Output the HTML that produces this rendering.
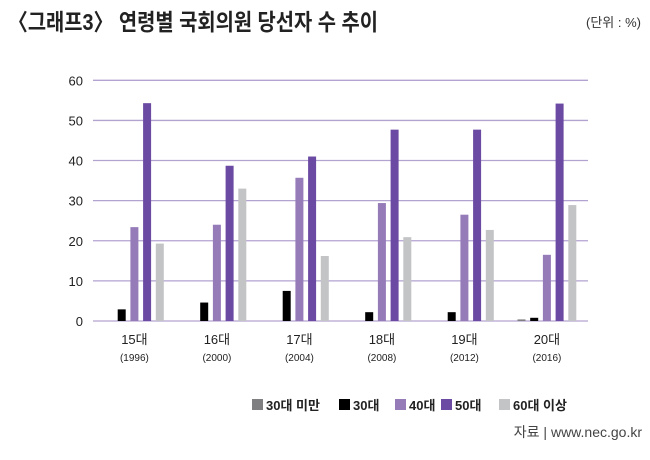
<!DOCTYPE html>
<html><head><meta charset="utf-8"><style>
body{margin:0;width:650px;height:455px;background:#fff;overflow:hidden;font-family:"Liberation Sans","Noto Sans CJK KR",sans-serif}
</style></head><body>
<svg width="650" height="455" xmlns="http://www.w3.org/2000/svg" id="chart">
<text x="8" y="30" font-size="23" font-weight="bold" fill="#222" font-family="Liberation Sans, Noto Sans CJK KR, sans-serif" textLength="370" lengthAdjust="spacingAndGlyphs">〈그래프3〉 연령별 국회의원 당선자 수 추이</text>
<text x="641" y="27" font-size="13" fill="#333" text-anchor="end" font-family="Liberation Sans, Noto Sans CJK KR, sans-serif">(단위 : %)</text>
<g id="grid"></g><g id="bars"></g><g id="xlabels"></g><g id="legend"></g>
<text x="642" y="437" font-size="14" fill="#444" text-anchor="end" font-family="Liberation Sans, Noto Sans CJK KR, sans-serif">자료 | www.nec.go.kr</text>
</svg>
<script>
const categories=["15대","16대","17대","18대","19대","20대"];
const years=["(1996)","(2000)","(2004)","(2008)","(2012)","(2016)"];
const seriesNames=["30대 미만","30대","40대","50대","60대 이상"];
const under30=[0,0,0,0,0,0.4];
const age30=[2.9,4.6,7.5,2.2,2.2,0.8];
const age40=[23.4,24.0,35.7,29.4,26.5,16.5];
const age50=[54.3,38.7,41.0,47.7,47.7,54.2];
const age60=[19.3,33.0,16.2,20.9,22.7,28.9];
const yTicks=[0,10,20,30,40,50,60];
const series=[under30,age30,age40,age50,age60];
const colors=["#7f7f82","#000000","#957cb9","#6a4aa2","#c3c4c6"];
const NS="http://www.w3.org/2000/svg";
const y0=321,yTop=80.3,yMax=60;
const y=v=>y0-(v/yMax)*(y0-yTop);
const x=(g,s)=>105+g*82.5+s*12.7;
function mk(t,a){const e=document.createElementNS(NS,t);for(const k in a)e.setAttribute(k,a[k]);return e;}
const grid=document.getElementById('grid');
yTicks.forEach(t=>{
  const l=mk('line',{x1:93,x2:588,y1:y(t),y2:y(t),stroke:'#b3a3d0','stroke-width':1.3});
  
  
  grid.appendChild(l);
  const tx=mk('text',{x:83,y:y(t)+5,'font-size':13,'text-anchor':'end',fill:'#222'});
  tx.textContent=t;
  
  
  grid.appendChild(tx);
});
const bars=document.getElementById('bars');
series.forEach((arr,s)=>arr.forEach((v,g)=>{
  if(v<=0)return;
  const r=mk('rect',{x:x(g,s),y:y(v),width:8,height:y0-y(v),fill:colors[s]});
  
  
  bars.appendChild(r);
}));
const xl=document.getElementById('xlabels');
categories.forEach((c,g)=>{
  const cx=x(g,2)+4;
  const t=mk('text',{x:cx,y:344,'font-size':13,'text-anchor':'middle',fill:'#222'});
  t.textContent=c;
  
  
  xl.appendChild(t);
  const t2=mk('text',{x:cx,y:361,'font-size':10,'text-anchor':'middle',fill:'#222'});
  t2.textContent=years[g];
  
  
  xl.appendChild(t2);
});
const lg=document.getElementById('legend');
const lx=[252,339,395,441,499];
seriesNames.forEach((n,i)=>{
  const r=mk('rect',{x:lx[i],y:399,width:11,height:11,fill:colors[i]});
  
  
  lg.appendChild(r);
  const t=mk('text',{x:lx[i]+14,y:410,'font-size':13,'font-weight':'bold',fill:'#222'});
  t.textContent=n;
  
  
  lg.appendChild(t);
});
</script>
</body></html>
